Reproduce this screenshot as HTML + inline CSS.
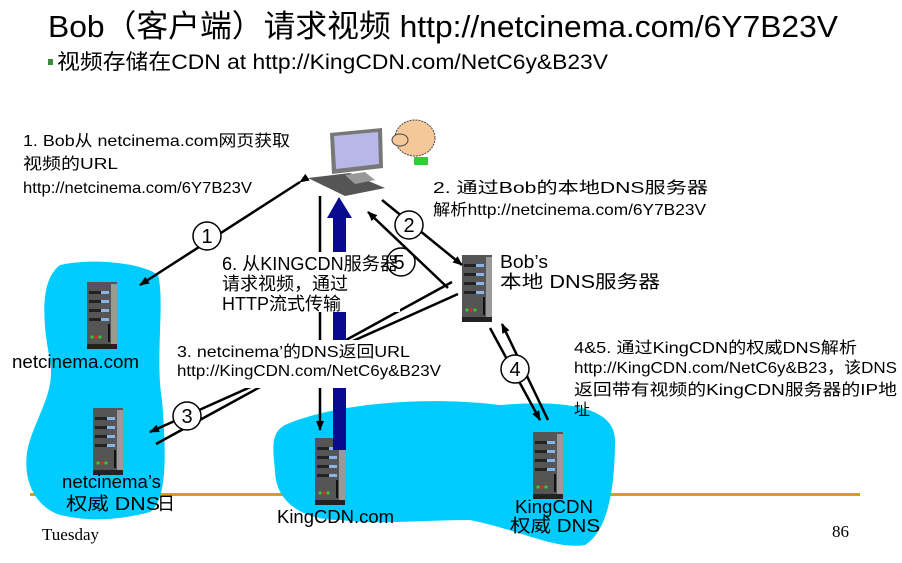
<!DOCTYPE html>
<html><head><meta charset="utf-8"><style>
html,body{margin:0;padding:0;background:#fff}
svg text{font-family:"Liberation Sans","Noto Sans CJK SC",sans-serif}
</style></head><body>
<svg width="902" height="558" viewBox="0 0 902 558" xmlns="http://www.w3.org/2000/svg">
<defs>
<g id="srv">
<rect x="0" y="0" width="30" height="66" fill="#555"/>
<rect x="24" y="2" width="6" height="64" fill="#999"/>
<rect x="0" y="62" width="30" height="5" fill="#222"/>
<rect x="2" y="9" width="20" height="3" fill="#222"/><rect x="14" y="9" width="8" height="3" fill="#8ab4e8"/>
<rect x="2" y="18" width="20" height="3" fill="#222"/><rect x="14" y="18" width="8" height="3" fill="#8ab4e8"/>
<rect x="2" y="27" width="20" height="3" fill="#222"/><rect x="14" y="27" width="8" height="3" fill="#8ab4e8"/>
<rect x="2" y="36" width="20" height="3" fill="#222"/><rect x="14" y="36" width="8" height="3" fill="#8ab4e8"/>
<rect x="21" y="42" width="2" height="18" fill="#111"/>
<circle cx="5" cy="55" r="1.6" fill="#3c3"/><circle cx="9" cy="55" r="1.6" fill="#e22"/><circle cx="13" cy="55" r="1.6" fill="#3c3"/>
</g>
<marker id="ah" markerWidth="10" markerHeight="8" refX="9" refY="4" orient="auto" markerUnits="userSpaceOnUse"><path d="M0,0 L10,4 L0,8 z" fill="#000"/></marker>
</defs>
<rect x="30" y="493" width="830" height="3" fill="#d4a017"/>
<path d="M60,265 C90,258 140,262 158,275 C165,300 155,360 162,400 C166,450 168,500 150,512 C120,520 90,522 60,515 C30,505 20,470 30,440 C40,410 55,390 50,360 C42,320 40,280 60,265 Z" fill="#00ccff"/>
<path d="M285,425 C330,405 420,395 500,405 C560,400 615,405 615,440 C615,480 610,530 585,545 C555,550 520,530 470,520 C420,520 380,525 340,520 C300,520 275,500 275,470 C272,445 272,432 285,425 Z" fill="#00ccff"/>
<use href="#srv" x="462" y="255"/>
<use href="#srv" x="87" y="282"/>
<use href="#srv" x="93" y="408"/>
<use href="#srv" x="315" y="438"/>
<use href="#srv" x="533" y="432"/>
<polygon points="330,133 382,128 383,168 332,174" fill="#777"/>
<polygon points="334,136 378,132 379,164 336,169" fill="#b8b8e8"/>
<polygon points="308,178 350,173 385,188 345,196" fill="#555"/>
<polygon points="345,175 365,172 375,180 355,184" fill="#999"/>
<ellipse cx="415" cy="138" rx="20" ry="18" fill="#f5c89a" stroke="#444" stroke-dasharray="2,1"/>
<ellipse cx="400" cy="140" rx="8" ry="6" fill="#f5c89a" stroke="#444"/>
<rect x="414" y="157" width="14" height="8" fill="#3c3"/>
<g stroke="#000" stroke-width="2.5" fill="none">
<line x1="300" y1="182" x2="140" y2="285" marker-end="url(#ah)" marker-start="url(#ah)"/>
<line x1="382" y1="200" x2="462" y2="265" marker-end="url(#ah)"/>
<line x1="448" y1="288" x2="368" y2="212" marker-end="url(#ah)"/>
<line x1="458" y1="294" x2="150" y2="432" marker-end="url(#ah)"/>
<line x1="452" y1="282" x2="156" y2="444"/>
<line x1="490" y1="328" x2="540" y2="420" marker-end="url(#ah)"/>
<line x1="548" y1="420" x2="502" y2="324" marker-end="url(#ah)"/>
<line x1="320" y1="196" x2="320" y2="430" marker-end="url(#ah)"/>
</g>
<rect x="333" y="215" width="13" height="235" fill="#0a0a90"/>
<polygon points="327,218 339,197 352,218" fill="#0a0a90"/>
<rect x="215" y="252" width="185" height="60" fill="#fff"/>
<rect x="172" y="340" width="270" height="48" fill="#fff"/>
<g fill="#fff" stroke="#000" stroke-width="1.5">
<circle cx="207" cy="236" r="14"/><circle cx="409" cy="225" r="14"/><circle cx="401" cy="262" r="14" fill="none"/>
<circle cx="187" cy="416" r="14"/><circle cx="515" cy="369" r="14"/>
</g>
<g font-size="20" text-anchor="middle">
<text x="207" y="243">1</text><text x="409" y="232">2</text><text x="399" y="269">5</text>
<text x="187" y="423">3</text><text x="515" y="376">4</text>
</g>
<text x="48" y="37" font-size="31" textLength="790" lengthAdjust="spacingAndGlyphs">Bob（客户端）请求视频 http://netcinema.com/6Y7B23V</text>
<rect x="48" y="59" width="5" height="6" fill="#3a8a3a"/>
<text x="57" y="69" font-size="21" textLength="551" lengthAdjust="spacingAndGlyphs">视频存储在CDN at http://KingCDN.com/NetC6y&amp;B23V</text>
<g font-size="16" lengthAdjust="spacingAndGlyphs">
<text x="23" y="146" textLength="267" lengthAdjust="spacingAndGlyphs">1. Bob从 netcinema.com网页获取</text>
<text x="23" y="169" textLength="95" lengthAdjust="spacingAndGlyphs">视频的URL</text>
<text x="23" y="193" textLength="229" lengthAdjust="spacingAndGlyphs">http://netcinema.com/6Y7B23V</text>
<text x="433" y="193" textLength="275" lengthAdjust="spacingAndGlyphs">2. 通过Bob的本地DNS服务器</text>
<text x="433" y="215" textLength="273" lengthAdjust="spacingAndGlyphs">解析http://netcinema.com/6Y7B23V</text>
<text x="177" y="357" textLength="233" lengthAdjust="spacingAndGlyphs">3. netcinema’的DNS返回URL</text>
<text x="177" y="376" textLength="264" lengthAdjust="spacingAndGlyphs">http://KingCDN.com/NetC6y&amp;B23V</text>
<text x="574" y="353" textLength="283" lengthAdjust="spacingAndGlyphs">4&amp;5. 通过KingCDN的权威DNS解析</text>
<text x="574" y="373" textLength="323" lengthAdjust="spacingAndGlyphs">http://KingCDN.com/NetC6y&amp;B23，该DNS</text>
<text x="574" y="395" textLength="323" lengthAdjust="spacingAndGlyphs">返回带有视频的KingCDN服务器的IP地</text>
<text x="574" y="415">址</text>
</g>
<g font-size="18">
<text x="222" y="270" textLength="176" lengthAdjust="spacingAndGlyphs">6. 从KINGCDN服务器</text>
<text x="222" y="290">请求视频，通过</text>
<text x="222" y="310">HTTP流式传输</text>
<text x="500" y="268" textLength="48" lengthAdjust="spacingAndGlyphs">Bob’s</text>
<text x="500" y="288" textLength="160" lengthAdjust="spacingAndGlyphs">本地 DNS服务器</text>
<text x="12" y="368" textLength="127" lengthAdjust="spacingAndGlyphs">netcinema.com</text>
<text x="62" y="488" textLength="99" lengthAdjust="spacingAndGlyphs">netcinema’s</text>
<text x="66" y="510" textLength="94" lengthAdjust="spacingAndGlyphs">权威 DNS</text>
<text x="277" y="523" textLength="117" lengthAdjust="spacingAndGlyphs">KingCDN.com</text>
<text x="515" y="513" textLength="78" lengthAdjust="spacingAndGlyphs">KingCDN</text>
<text x="510" y="532" textLength="90" lengthAdjust="spacingAndGlyphs">权威 DNS</text>
</g>
<text x="157" y="510" font-size="18">日</text>
<text x="42" y="540" font-size="17" style="font-family:'Liberation Serif',serif">Tuesday</text>
<text x="832" y="537" font-size="17" style="font-family:'Liberation Serif',serif">86</text>
</svg>
</body></html>
